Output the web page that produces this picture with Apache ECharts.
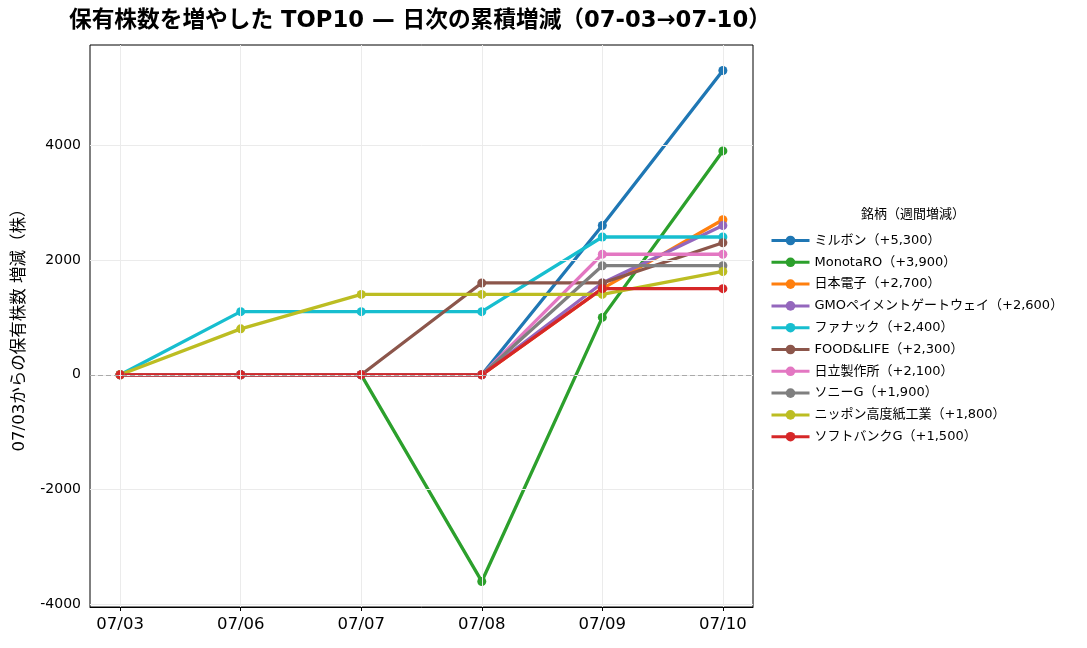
<!DOCTYPE html>
<html>
  <head>
    <meta charset="utf-8" />
    <title>保有株数を増やした TOP10</title>
    <script src="https://cdn.jsdelivr.net/npm/echarts@6/dist/echarts.min.js"></script>
    <style>
      html, body { margin: 0; padding: 0; background: #fff; }
    </style>
  </head>
  <body>
    <div id="main" style="width: 1087px;height: 648px;"></div>
    <script type="text/javascript">
      var FONT = '"DejaVu Sans", "Noto Sans CJK JP", sans-serif';

      var dates = ['07/03', '07/06', '07/07', '07/08', '07/09', '07/10']
      var names = ['ミルボン', 'MonotaRO', '日本電子', 'GMOペイメントゲートウェイ', 'ファナック',
                   'FOOD&LIFE', '日立製作所', 'ソニーG', 'ニッポン高度紙工業', 'ソフトバンクG']
      var weekly = ['+5,300', '+3,900', '+2,700', '+2,600', '+2,400', '+2,300', '+2,100', '+1,900', '+1,800', '+1,500']
      var colors = ['#1f77b4', '#2ca02c', '#ff7f0e', '#9467bd', '#17becf',
                    '#8c564b', '#e377c2', '#7f7f7f', '#bcbd22', '#d62728']

      // 07/03 からの累積増減（株）
      var milbon   = [0, 0, 0, 0, 2600, 5300]
      var monotaro = [0, 0, 0, -3600, 1000, 3900]
      var jeol     = [0, 0, 0, 0, 1500, 2700]
      var gmo      = [0, 0, 0, 0, 1600, 2600]
      var fanuc    = [0, 1100, 1100, 1100, 2400, 2400]
      var foodlife = [0, 0, 0, 1600, 1600, 2300]
      var hitachi  = [0, 0, 0, 0, 2100, 2100]
      var sony     = [0, 0, 0, 0, 1900, 1900]
      var nkk      = [0, 800, 1400, 1400, 1400, 1800]
      var softbank = [0, 0, 0, 0, 1500, 1500]
      var values = [milbon, monotaro, jeol, gmo, fanuc, foodlife, hitachi, sony, nkk, softbank]

      var yTicks = [-4000, -2000, 0, 2000, 4000]
      var xTicks = dates.map(function (d, i) { return i; })

      var myChart = echarts.init(document.getElementById('main'));

      var gridLines = []
      xTicks.forEach(function (i) { gridLines.push({ xAxis: i }) })
      yTicks.forEach(function (v) { gridLines.push({ yAxis: v }) })

      var series = [{
        type: 'line',
        data: [],
        z: 1,
        silent: true,
        markLine: {
          silent: true,
          symbol: 'none',
          label: { show: false },
          lineStyle: { color: '#ebebeb', type: 'solid', width: 1 },
          data: gridLines.concat([{
            yAxis: 0,
            lineStyle: { color: '#aaaaaa', type: [5, 3], width: 1.2 }
          }]),
          animation: false
        }
      }]

      names.forEach(function (n, k) {
        series.push({
          name: n + '（' + weekly[k] + '）',
          type: 'line',
          z: 2,
          data: values[k].map(function (v, i) { return [i, v]; }),
          color: colors[k],
          symbol: 'circle',
          symbolSize: 9,
          showAllSymbol: true,
          lineStyle: { width: 3.3 },
          emphasis: { disabled: true }
        })
      })

      var option = {
        animation: false,
        textStyle: { fontFamily: FONT },
        title: {
          text: '保有株数を増やした TOP10 — 日次の累積増減（07-03→07-10）',
          left: 64,
          top: 5,
          textStyle: { fontFamily: FONT, fontSize: 22.7, fontWeight: 'bold', color: '#000' }
        },
        graphic: [{
          type: 'text',
          left: 861,
          top: 208,
          style: { text: '銘柄（週間増減）', font: '13px ' + FONT, fill: '#000' }
        }],
        legend: {
          orient: 'vertical',
          left: 770,
          top: 234,
          padding: 0,
          itemWidth: 38,
          itemHeight: 12,
          itemGap: 8.8,
          lineStyle: { width: 3 },
          textStyle: { fontFamily: FONT, fontSize: 13, color: '#000' },
          data: series.slice(1).map(function (s) { return s.name; })
        },
        grid: {
          left: 90,
          right: 334,
          top: 45,
          bottom: 41,
          show: true,
          borderColor: '#000',
          borderWidth: 1,
          containLabel: false
        },
        xAxis: {
          type: 'value',
          min: -0.25,
          max: 5.25,
          splitLine: { show: false },
          axisLine: { show: true, onZero: false, lineStyle: { color: '#000' } },
          axisTick: { show: true, customValues: xTicks, length: 4, lineStyle: { color: '#000' } },
          axisLabel: {
            customValues: xTicks,
            margin: 9,
            fontSize: 16.5,
            color: '#000',
            fontFamily: FONT,
            formatter: function (v) { return dates[Math.round(v)]; }
          }
        },
        yAxis: {
          type: 'value',
          min: -4045,
          max: 5745,
          name: '07/03からの保有株数 増減（株）',
          nameLocation: 'middle',
          nameGap: 62,
          nameTextStyle: { fontSize: 16.5, color: '#000', fontFamily: FONT },
          splitLine: { show: false },
          axisLine: { show: true, lineStyle: { color: '#000' } },
          axisTick: { show: true, customValues: yTicks, length: 4, lineStyle: { color: '#000' } },
          axisLabel: {
            customValues: yTicks,
            margin: 9,
            fontSize: 14,
            color: '#000',
            fontFamily: FONT,
            formatter: function (v) { return String(v); }
          }
        },
        series: series
      }

      myChart.setOption(option);
    </script>
  </body>
</html>
